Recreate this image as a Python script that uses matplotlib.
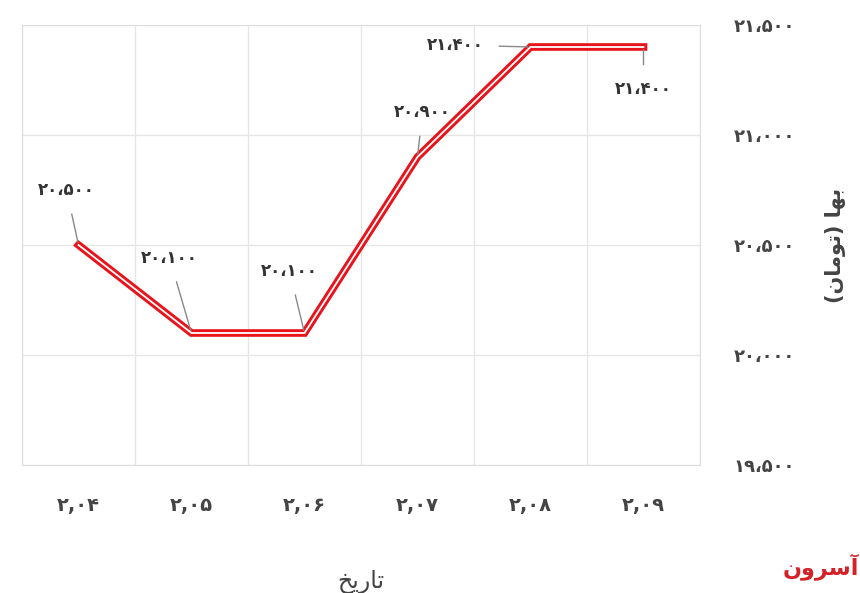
import matplotlib
matplotlib.use('Agg')
import matplotlib.pyplot as plt

FA = str.maketrans('0123456789', '۰۱۲۳۴۵۶۷۸۹')


def fa(s):
    return s.translate(FA)


dates = ['2,04', '2,05', '2,06', '2,07', '2,08', '2,09']
prices = [20500, 20100, 20100, 20900, 21400, 21400]
y_ticks = [19500, 20000, 20500, 21000, 21500]
# label offsets in pixels (dx, dy) relative to each point
label_off = [(-12, 55), (-22, 75), (-15, 62), (5, 45), (-75, 2), (0, -42)]

fig = plt.figure(figsize=(8.6, 5.93), dpi=100)
ax = fig.add_axes([22 / 860, 1 - 465 / 593, 678 / 860, 440 / 593])
xs = list(range(len(dates)))
ax.plot(xs, prices, color='#e8141c', lw=5.5, solid_joinstyle='miter', zorder=3)
ax.plot(xs, prices, color='white', lw=1.3, solid_joinstyle='miter', zorder=4)
ax.set_xlim(-0.5, len(dates) - 0.5)
ax.set_ylim(19500, 21500)
ax.set_xticks([x - 0.5 for x in range(len(dates) + 1)], minor=False)
ax.set_xticklabels([])
ax.set_xticks(xs, minor=True)
ax.set_xticklabels([fa(d) for d in dates], minor=True, fontweight='bold')
ax.tick_params(axis='x', which='both', length=0, pad=22,
               labelsize=14, labelcolor='#444444')
ax.yaxis.tick_right()
ax.set_yticks(y_ticks)
ax.set_yticklabels([fa(f'{v:,}').replace(',', '،') for v in y_ticks],
                   fontweight='bold')
ax.tick_params(axis='y', length=0, pad=24, labelsize=13, labelcolor='#444444')
ax.grid(True, which='major', color='#e6e6e6', lw=1)
for s in ax.spines.values():
    s.set_color('#dddddd')

for x, p, (dx, dy) in zip(xs, prices, label_off):
    ax.annotate(fa(f'{p:,}').replace(',', '،'), (x, p), xytext=(dx, dy),
                textcoords='offset pixels', ha='center', va='center',
                fontsize=12, fontweight='bold', color='#333333',
                arrowprops=dict(arrowstyle='-', color='#888888', lw=1,
                                shrinkA=9, shrinkB=2), zorder=5)

ax.set_xlabel('ﺦﯾﺭﺎﺗ', fontsize=17, color='#444444', labelpad=40)
ax.yaxis.set_label_position('right')
ax.set_ylabel('(ﻥﺎﻣﻮﺗ) ﺎﻬﺑ', fontsize=15, fontweight='bold',
              color='#444444', rotation=90, labelpad=22)
fig.text(0.955, 0.045, 'ﻥﻭﺮﺳﺁ', color='#d42027', fontsize=16,
         fontweight='bold', ha='center', va='center')
fig.savefig('out.png', dpi=100, facecolor='white')
